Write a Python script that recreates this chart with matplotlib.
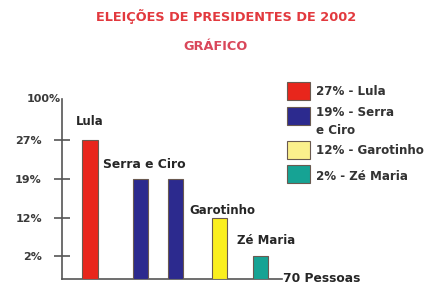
import numpy as np
import matplotlib
matplotlib.use('Agg')
import matplotlib.pyplot as plt

# data
candidates = ['Lula', 'Serra', 'Ciro', 'Garotinho', 'Zé Maria']
votes = [27, 19, 19, 12, 2]
bar_colors = ['#e8261c', '#2c2a8e', '#2c2a8e', '#faee1e', '#16a394']
tick_values = [2, 12, 19, 27]
tick_labels = ['2%', '12%', '19%', '27%']
legend_labels = ['27% - Lula', '19% - Serra\ne Ciro', '12% - Garotinho', '2% - Zé Maria']
legend_colors = ['#e8261c', '#2c2a8e', '#fbf08c', '#16a394']

plt.rcParams['font.family'] = ['DejaVu Sans']
plt.rcParams['font.weight'] = 'bold'

# the original y axis is not linear: ticks are evenly spaced
scale_v = [0, 2, 12, 19, 27, 100]
scale_p = [0, 23, 61, 100, 139, 180]

def forward(v):
    return np.interp(v, scale_v, scale_p)

def inverse(p):
    return np.interp(p, scale_p, scale_v)

fig = plt.figure(figsize=(4.32, 2.87), dpi=100)
W, H = 432, 287

def px(x0, y0, x1, y1):
    # pixel box (top-left origin) -> figure fraction rect
    return [x0 / W, 1 - y1 / H, (x1 - x0) / W, (y1 - y0) / H]

ax = fig.add_axes(px(62, 99, 282, 279))
ax.set_yscale('function', functions=(forward, inverse))

xpos = [0, 1.44, 2.44, 3.69, 4.88]
ax.bar(xpos, votes, width=0.43, color=bar_colors, edgecolor='#6a5a50', linewidth=0.8, zorder=3)
ax.set_xlim(-0.8, 5.49)
ax.set_ylim(0, 100)

ax.set_yticks(tick_values)
ax.set_yticklabels(tick_labels, fontsize=8, color='#3a3a3a')
ax.tick_params(axis='y', direction='inout', length=11, width=1.2, color='#555555', pad=9)
ax.set_xticks([])
for s in ['top', 'right']:
    ax.spines[s].set_visible(False)
ax.spines['left'].set_color('#555555')
ax.spines['bottom'].set_color('#555555')
ax.spines['left'].set_linewidth(1.2)
ax.spines['bottom'].set_linewidth(1.2)
ax.text(-0.83, 100, '100%', ha='right', va='center', fontsize=8, color='#3a3a3a',
        fontweight='bold', clip_on=False)

lab = dict(fontsize=8.5, color='#262626', fontweight='bold')
ax.text(xpos[0], 60, 'Lula', ha='center', va='center', **lab)
ax.text(1.54, 21.9, 'Serra e Ciro', ha='center', va='center', fontsize=8.9,
        color='#262626', fontweight='bold')
ax.text(xpos[3] + 0.1, 13.4, 'Garotinho', ha='center', va='center', **lab)
ax.text(xpos[4] + 0.15, 6.2, 'Zé Maria', ha='center', va='center', **lab)
ax.text(5.52, 0, '70 Pessoas', ha='left', va='center', clip_on=False, fontsize=8.8,
        color='#262626', fontweight='bold')

fig.text(226 / W, 1 - 17 / H, 'ELEIÇÕES DE PRESIDENTES DE 2002', ha='center', va='center',
         fontsize=9.3, color='#e2393e', fontweight='bold')
fig.text(215 / W, 1 - 47 / H, 'GRÁFICO', ha='center', va='center',
         fontsize=9.3, color='#d9475a', fontweight='bold')

# hand-drawn legend
box_y = [82, 107, 141, 165]
text_y = [[91], [113, 130], [151], [177]]
for c, yb, lbl, ty in zip(legend_colors, box_y, legend_labels, text_y):
    fig.patches.append(plt.Rectangle((287 / W, 1 - (yb + 18) / H), 23 / W, 18 / H,
                                     transform=fig.transFigure, facecolor=c,
                                     edgecolor='#6a5a50', linewidth=0.8))
    for line, y in zip(lbl.split('\n'), ty):
        fig.text(316 / W, 1 - y / H, line, ha='left', va='center', fontsize=8.6,
                 color='#333333', fontweight='bold')

fig.savefig('out.png', dpi=100)
